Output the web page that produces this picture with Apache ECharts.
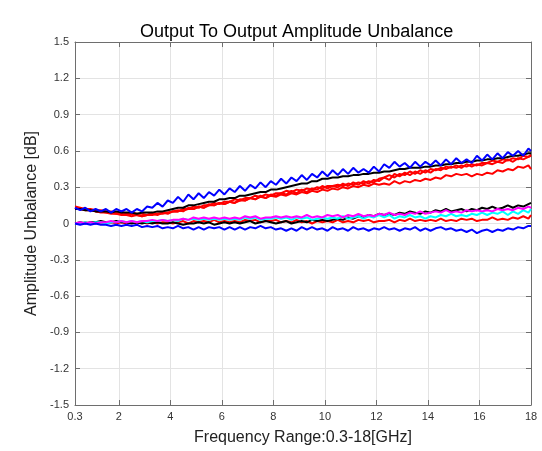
<!DOCTYPE html>
<html>
<head>
<meta charset="utf-8">
<script src="https://cdn.jsdelivr.net/npm/echarts@6/dist/echarts.min.js"></script>
<style>
html,body{margin:0;padding:0;background:#fff;}
#chart{width:542px;height:451px;}
</style>
</head>
<body>
<div id="chart"></div>
<script>
// Frequency grid (GHz)
const freq = [
0.3,0.5,0.7,0.9,1.1,1.3,1.5,1.7,1.9,2.1,
2.3,2.5,2.7,2.9,3.1,3.3,3.5,3.7,3.9,4.1,
4.3,4.5,4.7,4.9,5.1,5.3,5.5,5.7,5.9,6.1,
6.3,6.5,6.7,6.9,7.1,7.3,7.5,7.7,7.9,8.1,
8.3,8.5,8.7,8.9,9.1,9.3,9.5,9.7,9.9,10.1,
10.3,10.5,10.7,10.9,11.1,11.3,11.5,11.7,11.9,12.1,
12.3,12.5,12.7,12.9,13.1,13.3,13.5,13.7,13.9,14.1,
14.3,14.5,14.7,14.9,15.1,15.3,15.5,15.7,15.9,16.1,
16.3,16.5,16.7,16.9,17.1,17.3,17.5,17.7,17.9,18.0];

const xTicks = [0.3,2,4,6,8,10,12,14,16,18];

const blueUpper = [
0.13,0.11,0.13,0.10,0.12,0.10,0.12,0.09,0.12,0.10,
0.12,0.09,0.12,0.10,0.14,0.13,0.17,0.14,0.19,0.17,
0.22,0.18,0.24,0.20,0.25,0.21,0.26,0.23,0.28,0.24,
0.29,0.26,0.31,0.27,0.32,0.29,0.34,0.30,0.35,0.32,
0.37,0.33,0.38,0.35,0.40,0.36,0.41,0.38,0.43,0.39,
0.44,0.40,0.45,0.41,0.46,0.42,0.45,0.42,0.47,0.43,
0.49,0.46,0.51,0.47,0.50,0.46,0.51,0.47,0.51,0.48,
0.52,0.48,0.53,0.49,0.54,0.50,0.53,0.50,0.56,0.52,
0.57,0.53,0.58,0.54,0.59,0.56,0.60,0.56,0.62,0.60];

const blackUpper = [
0.12,0.12,0.11,0.11,0.10,0.10,0.10,0.09,0.10,0.09,
0.09,0.09,0.08,0.09,0.09,0.09,0.10,0.10,0.11,0.12,
0.13,0.13,0.15,0.15,0.16,0.17,0.18,0.18,0.20,0.20,
0.21,0.21,0.23,0.23,0.24,0.25,0.26,0.26,0.28,0.28,
0.29,0.30,0.31,0.32,0.33,0.33,0.35,0.35,0.37,0.37,
0.38,0.38,0.39,0.39,0.40,0.40,0.41,0.41,0.42,0.42,
0.43,0.43,0.44,0.45,0.45,0.46,0.46,0.46,0.47,0.47,
0.48,0.48,0.49,0.49,0.50,0.50,0.51,0.51,0.52,0.52,
0.53,0.53,0.54,0.54,0.55,0.56,0.56,0.57,0.58,0.58];

const redUpperA = [
0.14,0.13,0.12,0.12,0.11,0.11,0.10,0.10,0.09,0.10,
0.08,0.09,0.08,0.08,0.07,0.09,0.08,0.09,0.09,0.10,
0.11,0.10,0.13,0.12,0.14,0.13,0.16,0.15,0.17,0.16,
0.18,0.17,0.20,0.19,0.21,0.20,0.23,0.21,0.24,0.23,
0.25,0.24,0.27,0.25,0.28,0.26,0.29,0.28,0.31,0.29,
0.31,0.30,0.33,0.31,0.34,0.32,0.35,0.33,0.36,0.35,
0.38,0.36,0.41,0.39,0.42,0.40,0.43,0.41,0.44,0.42,
0.45,0.44,0.47,0.46,0.48,0.46,0.49,0.47,0.49,0.48,
0.50,0.49,0.51,0.50,0.53,0.51,0.54,0.53,0.55,0.56];

const redUpperB = [
0.13,0.12,0.12,0.11,0.10,0.10,0.09,0.09,0.08,0.08,
0.07,0.08,0.07,0.06,0.07,0.07,0.08,0.08,0.09,0.10,
0.10,0.12,0.12,0.14,0.13,0.15,0.15,0.17,0.16,0.18,
0.18,0.20,0.19,0.21,0.21,0.23,0.22,0.24,0.23,0.25,
0.25,0.27,0.26,0.28,0.27,0.29,0.28,0.30,0.29,0.31,
0.31,0.32,0.31,0.33,0.32,0.34,0.33,0.35,0.34,0.37,
0.38,0.40,0.38,0.41,0.40,0.43,0.41,0.44,0.42,0.45,
0.44,0.46,0.45,0.47,0.46,0.48,0.47,0.49,0.48,0.50,
0.50,0.52,0.51,0.53,0.52,0.54,0.53,0.56,0.55,0.57];

const redUpperC = [
0.13,0.12,0.11,0.11,0.10,0.09,0.09,0.08,0.08,0.07,
0.07,0.06,0.07,0.06,0.07,0.08,0.07,0.09,0.08,0.10,
0.10,0.11,0.12,0.12,0.14,0.13,0.15,0.15,0.17,0.16,
0.18,0.17,0.19,0.19,0.21,0.20,0.22,0.21,0.23,0.22,
0.24,0.23,0.25,0.24,0.26,0.25,0.27,0.26,0.28,0.27,
0.29,0.28,0.30,0.29,0.31,0.30,0.32,0.31,0.33,0.32,
0.33,0.32,0.35,0.33,0.35,0.34,0.36,0.35,0.37,0.36,
0.38,0.37,0.40,0.39,0.41,0.40,0.41,0.39,0.41,0.40,
0.42,0.41,0.44,0.43,0.45,0.44,0.47,0.46,0.48,0.45];

const blackLower = [
0.00,0.01,0.00,0.01,0.01,0.02,0.01,0.01,0.02,0.01,
0.01,0.00,0.01,0.00,0.01,0.00,0.01,0.00,0.00,0.01,
0.00,-0.01,0.00,0.00,0.01,0.00,0.01,-0.01,0.00,0.01,
0.00,0.01,0.00,0.01,0.02,0.00,0.01,0.02,0.01,0.00,
0.01,0.02,0.00,0.01,0.02,0.01,0.03,0.02,0.03,0.02,
0.03,0.04,0.03,0.05,0.04,0.06,0.05,0.07,0.06,0.08,
0.07,0.08,0.07,0.09,0.08,0.10,0.09,0.08,0.10,0.09,
0.11,0.10,0.12,0.10,0.11,0.12,0.10,0.12,0.11,0.13,
0.12,0.14,0.12,0.13,0.15,0.13,0.15,0.14,0.16,0.17];

const magentaLower = [
0.00,0.01,0.00,0.01,0.00,0.01,0.01,0.02,0.01,0.02,
0.01,0.02,0.01,0.02,0.02,0.03,0.02,0.03,0.02,0.03,
0.03,0.04,0.03,0.05,0.04,0.05,0.04,0.05,0.04,0.05,
0.04,0.05,0.04,0.06,0.05,0.06,0.04,0.05,0.05,0.06,
0.05,0.06,0.05,0.06,0.05,0.07,0.05,0.06,0.05,0.07,
0.06,0.07,0.05,0.07,0.06,0.08,0.06,0.07,0.06,0.08,
0.07,0.09,0.07,0.08,0.07,0.09,0.08,0.10,0.08,0.09,
0.10,0.09,0.11,0.09,0.10,0.09,0.11,0.10,0.11,0.10,
0.11,0.10,0.12,0.11,0.12,0.11,0.13,0.12,0.14,0.13];

const cyanLower = [
0.00,0.00,0.01,0.00,0.01,0.01,0.00,0.01,0.01,0.02,
0.01,0.02,0.01,0.02,0.01,0.02,0.02,0.03,0.02,0.03,
0.02,0.04,0.03,0.04,0.03,0.04,0.03,0.04,0.03,0.04,
0.03,0.04,0.03,0.05,0.04,0.05,0.03,0.04,0.04,0.05,
0.04,0.05,0.03,0.05,0.04,0.05,0.03,0.04,0.05,0.04,
0.05,0.04,0.06,0.04,0.05,0.06,0.04,0.06,0.05,0.07,
0.05,0.07,0.04,0.06,0.05,0.07,0.05,0.06,0.04,0.06,
0.05,0.07,0.06,0.08,0.06,0.07,0.06,0.08,0.07,0.09,
0.07,0.09,0.08,0.10,0.07,0.10,0.08,0.11,0.09,0.12];

const redLower = [
0.00,0.00,0.01,0.00,0.00,0.01,0.00,0.01,0.00,0.01,
0.00,0.01,0.00,0.01,0.00,0.01,0.00,0.01,0.01,0.00,
0.01,0.02,0.00,0.02,0.01,0.02,0.01,0.03,0.01,0.02,
0.01,0.02,0.01,0.03,0.02,0.03,0.01,0.02,0.02,0.03,
0.01,0.02,0.01,0.03,0.01,0.02,0.00,0.02,0.01,0.02,
0.01,0.03,0.01,0.02,0.01,0.03,0.02,0.03,0.01,0.02,
0.02,0.03,0.01,0.03,0.02,0.04,0.02,0.03,0.02,0.03,
0.02,0.04,0.02,0.03,0.02,0.04,0.03,0.04,0.02,0.03,
0.03,0.05,0.03,0.04,0.03,0.05,0.04,0.06,0.04,0.07];

const blueLower = [
0.00,-0.01,0.00,-0.01,0.00,-0.01,-0.01,-0.02,-0.01,-0.02,
-0.01,-0.02,-0.01,-0.03,-0.02,-0.03,-0.02,-0.04,-0.03,-0.04,
-0.02,-0.04,-0.03,-0.05,-0.03,-0.05,-0.03,-0.04,-0.03,-0.05,
-0.03,-0.05,-0.03,-0.05,-0.03,-0.04,-0.02,-0.04,-0.03,-0.05,
-0.04,-0.06,-0.04,-0.06,-0.03,-0.05,-0.03,-0.05,-0.04,-0.06,
-0.03,-0.05,-0.04,-0.06,-0.03,-0.05,-0.04,-0.06,-0.04,-0.05,
-0.03,-0.05,-0.04,-0.06,-0.04,-0.05,-0.03,-0.06,-0.04,-0.06,
-0.04,-0.03,-0.05,-0.04,-0.06,-0.05,-0.07,-0.05,-0.08,-0.06,
-0.05,-0.07,-0.05,-0.06,-0.04,-0.05,-0.03,-0.04,-0.02,-0.02];

const seriesDefs = [
  {name:'redUpperC', color:'#ff0000', data:redUpperC},
  {name:'redUpperB', color:'#ff0000', data:redUpperB},
  {name:'redUpperA', color:'#ff0000', data:redUpperA},
  {name:'blackUpper', color:'#000000', data:blackUpper},
  {name:'blueUpper', color:'#0000ff', data:blueUpper},
  {name:'redLower', color:'#ff0000', data:redLower},
  {name:'blackLower', color:'#000000', data:blackLower},
  {name:'cyanLower', color:'#00ffff', data:cyanLower},
  {name:'magentaLower', color:'#ff00ff', data:magentaLower},
  {name:'blueLower', color:'#0000ff', data:blueLower}
];

const FONT = '"Liberation Sans", Arial, sans-serif';
const axisCol = '#6e6e6e';
const labelCol = '#333333';
const gridCol = '#e3e3e3';

const chart = echarts.init(document.getElementById('chart'), null, {renderer:'canvas'});

const commonX = {
  type:'value', min:0.3, max:18,
  axisLine:{show:true, onZero:false, lineStyle:{color:axisCol, width:1}},
  axisTick:{show:true, inside:true, length:5, customValues:xTicks, lineStyle:{color:axisCol}},
};

chart.setOption({
  animation:false,
  backgroundColor:'#ffffff',
  title:{
    text:'Output To Output Amplitude Unbalance',
    left:135, top:18,
    textStyle:{fontFamily:FONT, fontSize:18, fontWeight:'normal', color:'#000'}
  },
  grid:{left:75, right:11, top:42, bottom:46, containLabel:false},
  xAxis:[
    Object.assign({}, commonX, {
      position:'bottom',
      name:'Frequency Range:0.3-18[GHz]',
      nameLocation:'middle', nameGap:25,
      nameTextStyle:{fontFamily:FONT, fontSize:16, color:'#222'},
      axisLabel:{show:true, customValues:xTicks, margin:6, fontFamily:FONT, fontSize:11, color:labelCol},
      splitLine:{show:true, lineStyle:{color:gridCol, width:1}}
    }),
    Object.assign({}, commonX, {
      position:'top',
      axisLabel:{show:false},
      splitLine:{show:false}
    })
  ],
  yAxis:[
    {
      type:'value', min:-1.5, max:1.5, interval:0.3,
      position:'left',
      name:'Amplitude Unbalance [dB]',
      nameLocation:'middle', nameGap:27,
      nameTextStyle:{fontFamily:FONT, fontSize:16, color:'#222'},
      axisLine:{show:true, onZero:false, lineStyle:{color:axisCol}},
      axisTick:{show:true, inside:true, length:5, lineStyle:{color:axisCol}},
      axisLabel:{margin:6, fontFamily:FONT, fontSize:11, color:labelCol,
        formatter:function(v){ return String(Math.round(v*10)/10); }},
      splitLine:{show:true, lineStyle:{color:gridCol, width:1}}
    },
    {
      type:'value', min:-1.5, max:1.5, interval:0.3,
      position:'right',
      axisLine:{show:true, onZero:false, lineStyle:{color:axisCol}},
      axisTick:{show:true, inside:true, length:5, lineStyle:{color:axisCol}},
      axisLabel:{show:false},
      splitLine:{show:false}
    }
  ],
  series: seriesDefs.map(function(s){
    return {
      name:s.name, type:'line', xAxisIndex:0, yAxisIndex:0,
      showSymbol:false, symbol:'none', smooth:false,
      lineStyle:{color:s.color, width:2},
      data: freq.map(function(f,i){ return [f, s.data[i]]; })
    };
  })
});
</script>
</body>
</html>
